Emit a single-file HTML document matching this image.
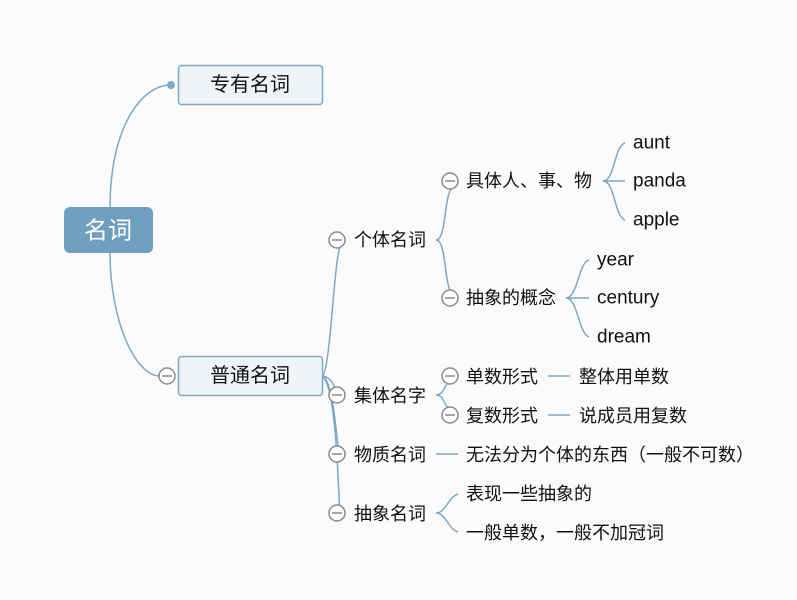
<!DOCTYPE html>
<html><head><meta charset="utf-8"><style>
body{margin:0;background:#fbfbfb;}
svg{display:block;}
text{font-family:"Liberation Sans","Noto Sans CJK SC",sans-serif;fill:#111;font-size:18px;dominant-baseline:central;}
.c{fill:#fff;stroke:#8a8a8a;stroke-width:1.5;}
.m{stroke:#8a8a8a;stroke-width:1.5;}
.l{fill:none;stroke:#7ea8c6;stroke-width:1.5;}
</style></head><body>
<svg width="797" height="600" viewBox="0 0 797 600">
<rect width="797" height="600" fill="#fbfbfb"/>
<path class="l" d="M110,207 C110,130 140,85 171,85"/>
<circle cx="171" cy="85" r="4" fill="#7ea8c6"/>
<path class="l" d="M110,253 C110,320 135,376 160,376"/>
<rect x="64" y="207" width="89" height="46" rx="6" fill="#6f9fbf"/>
<text x="108" y="231" text-anchor="middle" style="fill:#fff;font-size:24px">名词</text>
<rect x="178.5" y="65.5" width="144" height="39" rx="3" fill="#eef4f8" stroke="#7ea8c6" stroke-width="1.5"/>
<text x="250" y="85" text-anchor="middle" style="font-size:20px">专有名词</text>
<rect x="178.5" y="356.5" width="144" height="39" rx="3" fill="#eef4f8" stroke="#7ea8c6" stroke-width="1.5"/>
<text x="250" y="376" text-anchor="middle" style="font-size:20px">普通名词</text>
<circle class="c" cx="167" cy="376" r="8"/><line class="m" x1="162" y1="376" x2="172" y2="376"/>
<path class="l" d="M322,376 C330,376 334,260 340,247"/>
<path class="l" d="M322,376 C332,376 336,390 340,400"/>
<path class="l" d="M322,376 C334,380 336,440 340,459"/>
<path class="l" d="M322,376 C336,385 338,480 340,518"/>
<g>
<circle class="c" cx="337" cy="240" r="8"/><line class="m" x1="332" y1="240" x2="342" y2="240"/>
<circle class="c" cx="337" cy="395" r="8"/><line class="m" x1="332" y1="395" x2="342" y2="395"/>
<circle class="c" cx="337" cy="454" r="8"/><line class="m" x1="332" y1="454" x2="342" y2="454"/>
<circle class="c" cx="337" cy="513" r="8"/><line class="m" x1="332" y1="513" x2="342" y2="513"/>
</g>
<text x="354" y="240">个体名词</text>
<text x="354" y="396">集体名字</text>
<text x="354" y="455">物质名词</text>
<text x="354" y="514">抽象名词</text>
<path class="l" d="M436,240 C446,240 444,200 451,189"/>
<path class="l" d="M436,240 C446,240 444,280 451,293"/>
<path class="l" d="M436,395 C444,395 444,385 449,382"/>
<path class="l" d="M436,395 C444,395 444,405 449,409"/>
<circle class="c" cx="450" cy="181" r="8"/><line class="m" x1="445" y1="181" x2="455" y2="181"/>
<circle class="c" cx="450" cy="298" r="8"/><line class="m" x1="445" y1="298" x2="455" y2="298"/>
<circle class="c" cx="450" cy="376" r="8"/><line class="m" x1="445" y1="376" x2="455" y2="376"/>
<circle class="c" cx="450" cy="415" r="8"/><line class="m" x1="445" y1="415" x2="455" y2="415"/>
<text x="466" y="181">具体人、事、物</text>
<text x="466" y="298">抽象的概念</text>
<text x="466" y="377">单数形式</text>
<text x="466" y="416">复数形式</text>
<line class="l" x1="548" y1="376" x2="570" y2="376"/>
<line class="l" x1="548" y1="415" x2="570" y2="415"/>
<text x="579" y="377">整体用单数</text>
<text x="579" y="416">说成员用复数</text>
<line class="l" x1="436" y1="454" x2="458" y2="454"/>
<text x="466" y="455">无法分为个体的东西（一般不可数）</text>
<path class="l" d="M436,513 C446,513 448,497 458,494"/>
<path class="l" d="M436,513 C446,513 448,529 458,532"/>
<text x="466" y="494">表现一些抽象的</text>
<text x="466" y="533">一般单数，一般不加冠词</text>
<path class="l" d="M603,181 C615,181 614,146 625,143"/>
<line class="l" x1="603" y1="181" x2="625" y2="181"/>
<path class="l" d="M603,181 C615,181 614,216 625,220"/>
<text x="633" y="143" style="font-size:19px">aunt</text>
<text x="633" y="181" style="font-size:19px">panda</text>
<text x="633" y="220" style="font-size:19px">apple</text>
<path class="l" d="M566,298 C578,298 578,263 589,260"/>
<line class="l" x1="566" y1="298" x2="589" y2="298"/>
<path class="l" d="M566,298 C578,298 578,333 589,337"/>
<text x="597" y="260" style="font-size:19px">year</text>
<text x="597" y="298" style="font-size:19px">century</text>
<text x="597" y="337" style="font-size:19px">dream</text>
</svg>
</body></html>
